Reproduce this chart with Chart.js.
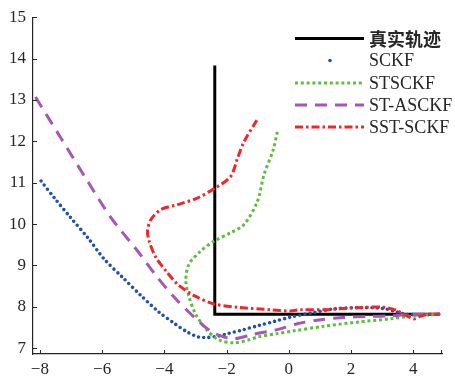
<!DOCTYPE html>
<html>
<head>
<meta charset="utf-8">
<script src="https://cdn.jsdelivr.net/npm/chart.js@4.4.1/dist/chart.umd.min.js"></script>
<style>
    html, body { margin: 0; padding: 0; background: #fff; }
    #wrap { width: 455px; height: 381px; position: relative; }
</style>
</head>
<body>
<div id="wrap"><canvas id="trackChart"></canvas></div>
<script>
// tick labels
const xTicks = [-8, -6, -4, -2, 0, 2, 4];
const yTicks = [7, 8, 9, 10, 11, 12, 13, 14, 15];

// series names
const seriesNames = ['真实轨迹', 'SCKF', 'STSCKF', 'ST-ASCKF', 'SST-SCKF'];

// true trajectory
const trueX = [-2.38, -2.38, 4.85];
const trueY = [13.83, 7.82, 7.82];

// SCKF
const sckfX = [-7.96, -7.5, -7.05, -6.46, -5.93, -5.34, -4.75, -4.17, -3.68, -3.26, -2.9, -2.6, -2.3, -1.97, -1.5, -0.96, -0.45, 0.05, 0.7, 1.44, 2.19, 3.04, 3.5, 3.75, 4.3, 4.85];
const sckfY = [11.04, 10.6, 10.19, 9.67, 9.15, 8.71, 8.27, 7.87, 7.6, 7.39, 7.27, 7.26, 7.29, 7.35, 7.44, 7.55, 7.65, 7.75, 7.85, 7.95, 7.98, 7.96, 7.87, 7.82, 7.81, 7.82];

// STSCKF
const stsckfX = [-0.37, -0.5, -0.8, -1.01, -1.44, -1.87, -2.4, -2.83, -3.21, -3.31, -3.2, -3.0, -2.65, -2.25, -1.75, -1.3, -1.0, -0.4, 0.16, 1.12, 2.19, 3.26, 4.12, 4.85];
const stsckfY = [12.23, 11.8, 11.19, 10.55, 9.99, 9.79, 9.59, 9.35, 9.03, 8.63, 8.23, 7.83, 7.45, 7.2, 7.13, 7.2, 7.27, 7.35, 7.42, 7.53, 7.63, 7.71, 7.79, 7.82];

// ST-ASCKF
const stasckfX = [-8.14, -7.3, -6.46, -5.71, -4.86, -4.22, -3.63, -3.04, -2.46, -1.81, -1.12, -0.37, 0.27, 1.02, 1.76, 2.51, 3.26, 3.9, 4.85];
const stasckfY = [13.07, 12.05, 11.03, 10.15, 9.35, 8.71, 8.19, 7.75, 7.39, 7.23, 7.34, 7.45, 7.59, 7.69, 7.74, 7.77, 7.78, 7.82, 7.82];

// SST-SCKF
const sstX = [-1.03, -1.44, -1.65, -1.87, -2.35, -2.94, -3.58, -4.11, -4.43, -4.54, -4.49, -4.27, -3.95, -3.58, -3.04, -2.4, -1.65, -0.59, 0.05, 0.37, 1.12, 2.19, 3.04, 3.47, 4.01, 4.22, 4.44, 4.85];
const sstY = [12.51, 11.99, 11.59, 11.15, 10.88, 10.63, 10.47, 10.35, 10.11, 9.85, 9.59, 9.19, 8.87, 8.55, 8.27, 8.07, 7.99, 7.93, 7.9, 7.93, 7.93, 7.98, 7.99, 7.91, 7.71, 7.77, 7.82, 7.82];

const toPoints = function(xs, ys) {
    return xs.map(function(x, i) { return { x: x, y: ys[i] }; });
};

const minusLabel = function(v) {
    return v < 0 ? '\u2212' + Math.abs(v) : String(v);
};

// inward tick marks like the original figure
const innerTicks = {
    id: 'innerTicks',
    afterDraw: function(chart) {
        const ctx = chart.ctx;
        const area = chart.chartArea;
        const xs = chart.scales.x;
        const ys = chart.scales.y;
        ctx.save();
        ctx.strokeStyle = '#262626';
        ctx.lineWidth = 1;
        ctx.beginPath();
        xTicks.forEach(function(v) {
            const px = Math.round(xs.getPixelForValue(v)) + 0.5;
            ctx.moveTo(px, area.bottom);
            ctx.lineTo(px, area.bottom - 4);
        });
        ctx.moveTo(area.right - 0.5, area.bottom);
        ctx.lineTo(area.right - 0.5, area.bottom - 4);
        yTicks.forEach(function(v) {
            const py = Math.round(ys.getPixelForValue(v)) + 0.5;
            ctx.moveTo(area.left, py);
            ctx.lineTo(area.left + 4, py);
        });
        ctx.stroke();
        ctx.restore();
    }
};

// legend drawn inside the plot, lines + labels
const lineLegend = {
    id: 'lineLegend',
    afterDraw: function(chart) {
        const ctx = chart.ctx;
        const x0 = 295, x1 = 364, tx = 369;
        const rows = [38.5, 60.5, 83, 105, 127];
        ctx.save();
        chart.data.datasets.forEach(function(ds, i) {
            const y = rows[i];
            ctx.strokeStyle = ds.borderColor;
            ctx.fillStyle = ds.borderColor;
            ctx.lineWidth = ds.borderWidth;
            if (ds.legendDot) {
                ctx.beginPath();
                ctx.arc(330, y, 1.8, 0, Math.PI * 2);
                ctx.fill();
            } else {
                ctx.setLineDash(ds.borderDash || []);
                ctx.lineCap = 'butt';
                ctx.beginPath();
                ctx.moveTo(x0, y);
                ctx.lineTo(x1, y);
                ctx.stroke();
                ctx.setLineDash([]);
            }
            ctx.fillStyle = '#262626';
            ctx.textBaseline = 'middle';
            ctx.textAlign = 'left';
            ctx.font = i === 0 ? 'bold 18px "Noto Sans CJK SC"' : '18px "Liberation Serif"';
            ctx.fillText(ds.label, tx, y + 1);
        });
        ctx.restore();
    }
};

Chart.defaults.font.family = '"Liberation Serif", serif';
Chart.defaults.font.size = 17;
Chart.defaults.color = '#262626';

const ctx = document.getElementById('trackChart').getContext('2d');
const chart = new Chart(ctx, {
    type: 'scatter',
    data: {
        datasets: [
            {
                label: seriesNames[0],
                data: toPoints(trueX, trueY),
                showLine: true,
                borderColor: '#000000',
                borderWidth: 3,
                tension: 0,
                pointRadius: 0,
                order: 5
            },
            {
                label: seriesNames[1],
                data: toPoints(sckfX, sckfY),
                showLine: true,
                borderColor: '#2152a8',
                borderWidth: 3.6,
                borderDash: [0, 5.2],
                borderCapStyle: 'round',
                tension: 0.3,
                pointRadius: 0,
                legendDot: true,
                order: 4
            },
            {
                label: seriesNames[2],
                data: toPoints(stsckfX, stsckfY),
                showLine: true,
                borderColor: '#5cbf3c',
                borderWidth: 3,
                borderDash: [3, 2.8],
                tension: 0.3,
                pointRadius: 0,
                order: 3
            },
            {
                label: seriesNames[3],
                data: toPoints(stasckfX, stasckfY),
                showLine: true,
                borderColor: '#a656b4',
                borderWidth: 3,
                borderDash: [12, 8],
                tension: 0.3,
                pointRadius: 0,
                order: 2
            },
            {
                label: seriesNames[4],
                data: toPoints(sstX, sstY),
                showLine: true,
                borderColor: '#f2252b',
                borderWidth: 3,
                borderDash: [8, 3, 2.5, 3],
                tension: 0.3,
                pointRadius: 0,
                order: 1
            }
        ]
    },
    options: {
        responsive: true,
        maintainAspectRatio: false,
        animation: false,
        layout: {
            padding: { top: 13, right: 13, left: 0, bottom: 0 }
        },
        plugins: {
            legend: { display: false },
            tooltip: { enabled: false }
        },
        scales: {
            x: {
                type: 'linear',
                min: -8.22,
                max: 4.92,
                afterBuildTicks: function(scale) {
                    scale.ticks = xTicks.map(function(v) { return { value: v }; });
                },
                afterFit: function(scale) {
                    scale.height = 27;
                },
                ticks: {
                    padding: 5,
                    maxRotation: 0,
                    autoSkip: false,
                    callback: function(v) { return minusLabel(v); }
                },
                grid: { display: false, drawTicks: false },
                border: { display: true, color: '#262626', width: 1.2 }
            },
            y: {
                type: 'linear',
                min: 6.86,
                max: 15,
                afterBuildTicks: function(scale) {
                    scale.ticks = yTicks.map(function(v) { return { value: v }; });
                },
                afterFit: function(scale) {
                    scale.width = 33;
                },
                ticks: {
                    padding: 7,
                    autoSkip: false,
                    callback: function(v) { return String(v); }
                },
                grid: { display: false, drawTicks: false },
                border: { display: true, color: '#262626', width: 1.2 }
            }
        }
    },
    plugins: [innerTicks, lineLegend]
});
</script>
</body>
</html>
